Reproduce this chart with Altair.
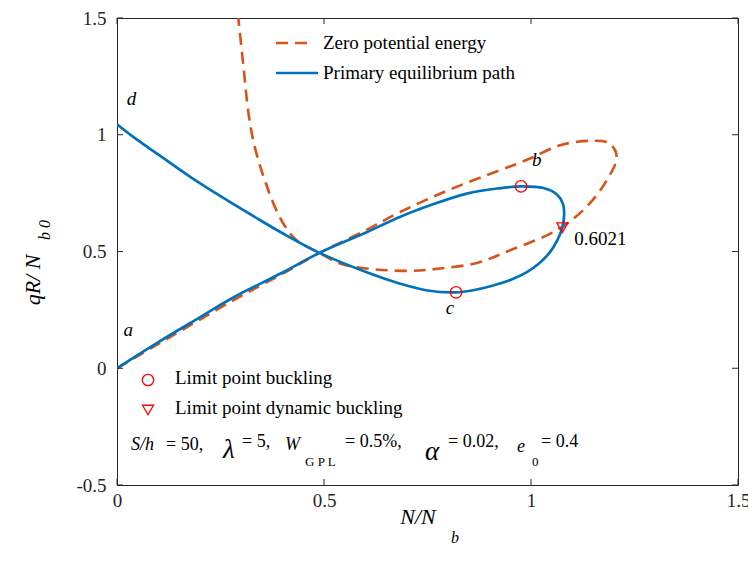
import altair as alt
import pandas as pd

# Primary equilibrium path, in path order a -> b -> c -> d
path_n = [0, 0.1, 0.2, 0.281, 0.4, 0.489, 0.6, 0.683, 0.76, 0.845, 0.92, 0.976,
          1.03, 1.062, 1.077, 1.08, 1.0757, 1.064, 1.045, 1.02, 0.99, 0.95, 0.9,
          0.86, 0.819, 0.75, 0.684, 0.6, 0.489, 0.4, 0.345, 0.25, 0.176, 0.1, 0.04, 0]
path_q = [0, 0.112, 0.218, 0.303, 0.41, 0.494, 0.58, 0.648, 0.70, 0.748, 0.770, 0.779,
          0.772, 0.745, 0.705, 0.655, 0.6021, 0.55, 0.495, 0.45, 0.412, 0.378, 0.35,
          0.334, 0.325, 0.333, 0.362, 0.413, 0.494, 0.578, 0.635, 0.737, 0.821, 0.915, 0.99, 1.045]

# Zero potential energy curve, in path order
zpe_n = [0, 0.12, 0.281, 0.4, 0.489, 0.6, 0.684, 0.804, 0.925, 0.973, 1.006, 1.07,
         1.142, 1.19, 1.207, 1.183, 1.134, 1.062, 0.949, 0.869, 0.78, 0.708, 0.603,
         0.539, 0.489, 0.434, 0.405, 0.378, 0.36, 0.345, 0.329, 0.317, 0.305, 0.293]
zpe_q = [0, 0.125, 0.291, 0.405, 0.494, 0.59, 0.669, 0.765, 0.848, 0.88, 0.905, 0.955,
         0.974, 0.962, 0.905, 0.805, 0.691, 0.591, 0.505, 0.451, 0.427, 0.417, 0.427,
         0.448, 0.494, 0.548, 0.61, 0.705, 0.79, 0.87, 0.976, 1.10, 1.30, 1.5]

# Limit points
limit_n = [0.976, 0.819]
limit_q = [0.779, 0.325]
dyn_n = [1.0757]
dyn_q = [0.6021]

# Point names along the path
point_names = ["a", "b", "c", "d"]
point_n = [0.027, 1.014, 0.804, 0.035]
point_q = [0.163, 0.891, 0.257, 1.155]

x_ticks = [0, 0.5, 1, 1.5]
y_ticks = [-0.5, 0, 0.5, 1, 1.5]

W, H = 621, 467
SERIF = "Liberation Serif"
BLUE = "#0072BD"
ORANGE = "#D95319"
RED = "#FF0000"
INK = "#262626"

xs = alt.Scale(domain=[0, 1.5], nice=False, zero=False)
ys = alt.Scale(domain=[-0.5, 1.5], nice=False, zero=False)

x_axis = alt.Axis(values=x_ticks, ticks=False, grid=False, domain=False, title=None,
                  labelFont=SERIF, labelFontSize=19, labelColor=INK, labelPadding=6,
                  labelFlush=False, labelOverlap=False, labelExpr="'' + datum.value")
y_axis = alt.Axis(values=y_ticks, ticks=False, grid=False, domain=False, title=None,
                  labelFont=SERIF, labelFontSize=19, labelColor=INK, labelPadding=11,
                  labelFlush=False, labelOverlap=False, labelExpr="'' + datum.value")

X = alt.X("n:Q", scale=xs, axis=x_axis)
Y = alt.Y("q:Q", scale=ys, axis=y_axis)

path_df = pd.DataFrame({"n": path_n, "q": path_q, "i": range(len(path_n))})
zpe_df = pd.DataFrame({"n": zpe_n, "q": zpe_q, "i": range(len(zpe_n))})
limit_df = pd.DataFrame({"n": limit_n, "q": limit_q})
dyn_df = pd.DataFrame({"n": dyn_n, "q": dyn_q, "t": [f"{v:.4f}" for v in dyn_q]})
names_df = pd.DataFrame({"n": point_n, "q": point_q, "t": point_names})
xt_df = pd.DataFrame({"n": x_ticks})
yt_df = pd.DataFrame({"q": y_ticks})

zpe_line = alt.Chart(zpe_df).mark_line(
    color=ORANGE, strokeWidth=2.6, strokeDash=[12, 7], interpolate="catmull-rom", clip=True
).encode(x=X, y=Y, order="i:Q")

path_line = alt.Chart(path_df).mark_line(
    color=BLUE, strokeWidth=2.7, interpolate="catmull-rom", clip=True
).encode(x=X, y=Y, order="i:Q")

limit_pts = alt.Chart(limit_df).mark_point(
    shape="circle", filled=False, color=RED, size=130, strokeWidth=1.3, opacity=1
).encode(x=X, y=Y)

dyn_pts = alt.Chart(dyn_df).mark_point(
    shape="triangle-down", filled=False, color=RED, size=120, strokeWidth=1.3, opacity=1
).encode(x=X, y=Y)

dyn_label = alt.Chart(dyn_df).mark_text(
    font=SERIF, fontSize=19, color="black", align="left", baseline="middle", dx=12, dy=11
).encode(x=X, y=Y, text="t:N")

names = alt.Chart(names_df).mark_text(
    font=SERIF, fontSize=19, fontStyle="italic", color="black", align="center", baseline="middle"
).encode(x=X, y=Y, text="t:N")

# inward ticks on all four sides
tick_len = 6
x_ticks_bottom = alt.Chart(xt_df).mark_rule(color=INK, strokeWidth=1).encode(
    x=X, y=alt.value(H), y2=alt.value(H - tick_len))
x_ticks_top = alt.Chart(xt_df).mark_rule(color=INK, strokeWidth=1).encode(
    x=X, y=alt.value(0), y2=alt.value(tick_len))
y_ticks_left = alt.Chart(yt_df).mark_rule(color=INK, strokeWidth=1).encode(
    y=Y, x=alt.value(0), x2=alt.value(tick_len))
y_ticks_right = alt.Chart(yt_df).mark_rule(color=INK, strokeWidth=1).encode(
    y=Y, x=alt.value(W), x2=alt.value(W - tick_len))


def text_at(s, x, y, size=19, style="normal", angle=0, align="left"):
    return alt.Chart(pd.DataFrame({"t": [s]})).mark_text(
        font=SERIF, fontSize=size, fontStyle=style, color="black",
        align=align, baseline="middle", angle=angle
    ).encode(x=alt.value(x), y=alt.value(y), text="t:N")


def rule_at(x1, x2, y, color, dash=None):
    kw = dict(color=color, strokeWidth=2.6)
    if dash:
        kw["strokeDash"] = dash
    return alt.Chart(pd.DataFrame({"k": [0]})).mark_rule(**kw).encode(
        x=alt.value(x1), x2=alt.value(x2), y=alt.value(y))


def marker_at(shape, x, y):
    return alt.Chart(pd.DataFrame({"k": [0]})).mark_point(
        shape=shape, filled=False, color=RED, size=130 if shape == "circle" else 120,
        strokeWidth=1.3, opacity=1
    ).encode(x=alt.value(x), y=alt.value(y))


# line legend (upper)
legend_top = [
    rule_at(159, 195, 25, ORANGE, [12, 7]),
    text_at("Zero potential energy", 206, 25),
    rule_at(159, 201, 55, BLUE),
    text_at("Primary equilibrium path", 206, 55),
]

# marker legend (lower)
legend_bottom = [
    marker_at("circle", 31, 362),
    text_at("Limit point buckling", 58, 360),
    marker_at("triangle-down", 31, 392),
    text_at("Limit point dynamic buckling", 58, 390),
]

# parameter line
params = [
    text_at("S/h", 14, 427, 18, "italic"),
    text_at("= 50,", 49, 427, 18),
    text_at("λ", 106, 432, 27, "italic"),
    text_at("= 5,", 125, 424, 18),
    text_at("W", 168, 427, 18, "italic"),
    text_at("G P L", 188, 444, 13),
    text_at("= 0.5%,", 228, 424, 18),
    text_at("α", 308, 434, 27, "italic"),
    text_at("= 0.02,", 331, 424, 18),
    text_at("e", 400, 429, 18, "italic"),
    text_at("0", 415, 444, 13),
    text_at("= 0.4", 424, 424, 18),
]

# axis titles
titles = [
    text_at("N/N", 301, 499, 22, "italic", align="center"),
    text_at("b", 338, 520, 16, "italic", align="center"),
    text_at("qR/ N", -84, 262, 22, "italic", angle=270, align="center"),
    text_at("b 0", -72, 212, 16, "italic", angle=270, align="center"),
]

chart = alt.layer(
    zpe_line, path_line, limit_pts, dyn_pts, dyn_label, names,
    x_ticks_bottom, x_ticks_top, y_ticks_left, y_ticks_right,
    *legend_top, *legend_bottom, *params, *titles
).properties(
    width=W, height=H,
    autosize=alt.AutoSizeParams(type="none"),
    padding={"left": 117, "top": 18, "right": 10, "bottom": 87},
    background="white",
).configure_view(
    stroke=INK, strokeWidth=1
)

chart.save("out.html", embed_options={"renderer": "svg", "actions": False})
